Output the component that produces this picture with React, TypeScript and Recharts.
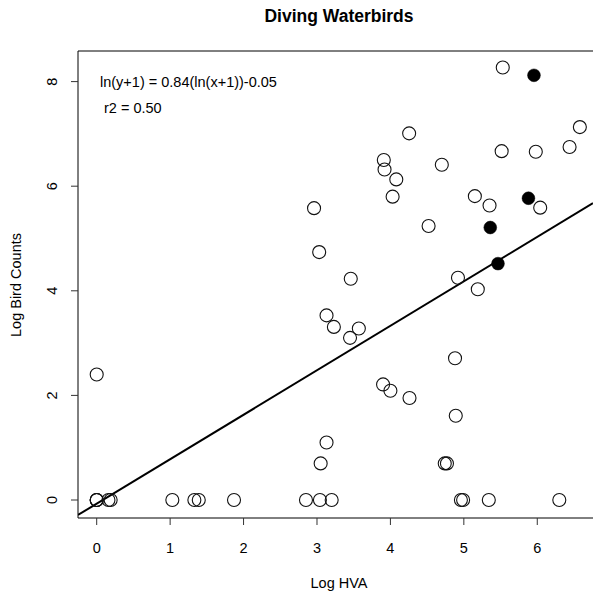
import {
  ScatterChart,
  Scatter,
  XAxis,
  YAxis,
  ReferenceLine,
} from "recharts";

// open circles: log HVA (x) vs log bird counts (y)
const openX = [
  0, 0, 0, 0.16, 0.19, 1.03, 1.33, 1.39, 1.87, 2.85, 3.04, 3.2, 4.96, 4.99, 5.34, 6.3,
  0, 3.05, 3.13, 4.74, 4.77, 4.89, 4.26, 4.0, 3.9, 4.88,
  3.45, 3.57, 3.23, 3.13, 3.46, 4.92, 5.19, 3.03, 4.52, 2.96,
  6.04, 5.35, 4.03, 5.15, 4.08, 3.92, 4.7, 3.91, 5.515, 5.98,
  6.44, 4.255, 6.58, 5.53,
];
const openY = [
  0, 0, 0, 0, 0, 0, 0, 0, 0, 0, 0, 0, 0, 0, 0, 0,
  2.4, 0.7, 1.1, 0.7, 0.7, 1.61, 1.95, 2.09, 2.21, 2.71,
  3.1, 3.28, 3.31, 3.53, 4.23, 4.25, 4.03, 4.74, 5.24, 5.58,
  5.59, 5.63, 5.8, 5.81, 6.13, 6.32, 6.41, 6.5, 6.67, 6.66,
  6.75, 7.01, 7.13, 8.27,
];

// filled circles
const filledX = [5.955, 5.88, 5.36, 5.465];
const filledY = [8.12, 5.77, 5.21, 4.52];

// fitted line
const FIT_SLOPE = 0.85;
const FIT_INTERCEPT = -0.07;

const xTicks = [0, 1, 2, 3, 4, 5, 6];
const yTicks = [0, 2, 4, 6, 8];

const X_MIN = -0.2547;
const X_MAX = 6.759;
const Y_MIN = -0.344;
const Y_MAX = 8.585;

const openData = openX.map((x, i) => ({ x, y: openY[i] }));
const filledData = filledX.map((x, i) => ({ x, y: filledY[i] }));
const fitData = [X_MIN, X_MAX].map((x) => ({ x, y: FIT_SLOPE * x + FIT_INTERCEPT }));

const FONT = "'Liberation Sans', Arial, sans-serif";

const OpenDot = (props: any) => (
  <circle cx={props.cx} cy={props.cy} r={6.5} fill="none" stroke="#111" strokeWidth={1.1} />
);
const FilledDot = (props: any) => (
  <circle cx={props.cx} cy={props.cy} r={6.4} fill="#000" stroke="#000" strokeWidth={0.5} />
);
const NoDot = () => <g />;

const XTick = ({ x, payload }: any) => (
  <text x={x} y={548} textAnchor="middle" dominantBaseline="central" fontSize={14.5} fontFamily={FONT} fill="#000">
    {payload.value}
  </text>
);
const YTick = ({ y, payload }: any) => (
  <text
    x={52}
    y={y}
    transform={`rotate(-90 52 ${y})`}
    textAnchor="middle"
    dominantBaseline="central"
    fontSize={14.5}
    fontFamily={FONT}
    fill="#000"
  >
    {payload.value}
  </text>
);

const textStyle = {
  position: "absolute" as const,
  fontFamily: FONT,
  fontSize: 14.5,
  color: "#000",
  whiteSpace: "nowrap" as const,
  lineHeight: 1,
};

export default function App() {
  return (
    <div style={{ position: "absolute", left: 0, top: 0, width: 593, height: 596, background: "#fff", overflow: "hidden" }}>
      <ScatterChart width={593} height={596} margin={{ top: 51, right: 0, bottom: 0, left: 0 }}>
        <XAxis
          type="number"
          dataKey="x"
          domain={[X_MIN, X_MAX]}
          allowDataOverflow
          ticks={xTicks}
          tick={<XTick />}
          tickSize={7}
          height={78}
          stroke="#000"
          tickLine={{ stroke: "#333" }}
        />
        <YAxis
          type="number"
          dataKey="y"
          domain={[Y_MIN, Y_MAX]}
          allowDataOverflow
          ticks={yTicks}
          tick={<YTick />}
          tickSize={7}
          width={78}
          stroke="#000"
          tickLine={{ stroke: "#333" }}
        />
        <ReferenceLine y={Y_MAX} stroke="#000" strokeWidth={1} />
        <Scatter data={fitData} line={{ stroke: "#000", strokeWidth: 2 }} shape={<NoDot />} isAnimationActive={false} />
        <Scatter data={openData} shape={<OpenDot />} isAnimationActive={false} />
        <Scatter data={filledData} shape={<FilledDot />} isAnimationActive={false} />
      </ScatterChart>

      <div style={{ ...textStyle, left: 0, width: 678, top: 8, textAlign: "center", fontWeight: "bold", fontSize: 17.5 }}>
        Diving Waterbirds
      </div>
      <div style={{ ...textStyle, left: 100, top: 75 }}>ln(y+1) = 0.84(ln(x+1))-0.05</div>
      <div style={{ ...textStyle, left: 104, top: 101 }}>r2 = 0.50</div>
      <div style={{ ...textStyle, left: 0, width: 678, top: 576, textAlign: "center" }}>Log HVA</div>
      <div
        style={{
          ...textStyle,
          left: 16,
          top: 285,
          transform: "translate(-50%, -50%) rotate(-90deg)",
        }}
      >
        Log Bird Counts
      </div>
    </div>
  );
}
